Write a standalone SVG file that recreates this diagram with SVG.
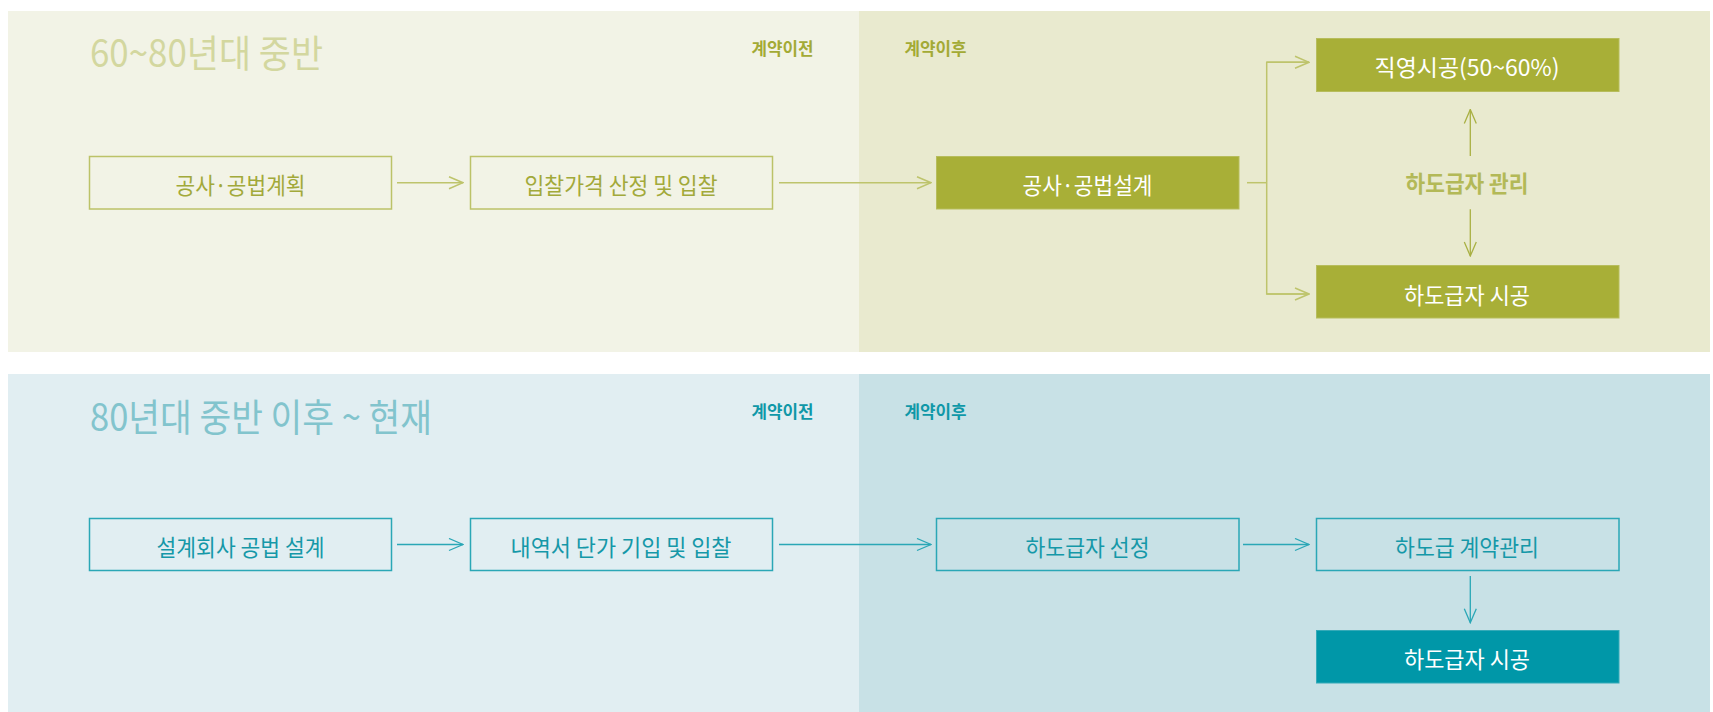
<svg xmlns="http://www.w3.org/2000/svg" width="1713" height="712" viewBox="0 0 1713 712">
  <defs>
    <style>
      text { font-family: "Noto Sans CJK KR", "Noto Sans", sans-serif; text-anchor: middle; }
      .title1 { font-size: 38px; fill: #d3d79f; text-anchor: start; }
      .title2 { font-size: 38px; fill: #82c4cd; text-anchor: start; }
      .lab1 { font-size: 17px; font-weight: bold; fill: #a3aa35; }
      .lab2 { font-size: 17px; font-weight: bold; fill: #0f98a8; }
      .ob1 { fill: none; stroke: #bcc268; stroke-width: 1.5; }
      .fb1 { fill: #a8af37; stroke: #b7bd5c; stroke-width: 1; }
      .ob2 { fill: none; stroke: #2aa7b6; stroke-width: 1.5; }
      .fb2 { fill: #0097a8; stroke: #35aab8; stroke-width: 1; }
      .t1 { font-size: 23px; fill: #a2a93a; }
      .tw { font-size: 23px; fill: #ffffff; }
      .t2 { font-size: 23px; fill: #1598a8; }
      .mg { font-size: 23px; font-weight: bold; fill: #b3b957; }
      .c1 { fill: none; stroke: #bec46c; stroke-width: 1.5; }
      .c1d { fill: none; stroke: #a9b043; stroke-width: 1.3; }
      .c2 { fill: none; stroke: #2aa7b6; stroke-width: 1.3; }
    </style>
    <marker id="a1" viewBox="0 0 16 14" refX="15" refY="7" markerWidth="16" markerHeight="14" markerUnits="userSpaceOnUse" orient="auto">
      <path d="M1,1 L15,7 L1,13" fill="none" stroke="#bec46c" stroke-width="1.5"/>
    </marker>
    <marker id="a1d" viewBox="0 0 16 14" refX="15" refY="7" markerWidth="16" markerHeight="14" markerUnits="userSpaceOnUse" orient="auto">
      <path d="M1,1 L15,7 L1,13" fill="none" stroke="#a9b043" stroke-width="1.3"/>
    </marker>
    <marker id="a2" viewBox="0 0 16 14" refX="15" refY="7" markerWidth="16" markerHeight="14" markerUnits="userSpaceOnUse" orient="auto">
      <path d="M1,1 L15,7 L1,13" fill="none" stroke="#2aa7b6" stroke-width="1.3"/>
    </marker>
  </defs>

  <rect width="1713" height="712" fill="#ffffff"/>

  <g id="panel-top">
    <rect x="8" y="11" width="851" height="341" fill="#f2f3e6"/>
    <rect x="859" y="11" width="851" height="341" fill="#e9eacf"/>
    <text class="title1" x="90" y="67" textLength="233" lengthAdjust="spacingAndGlyphs">60~80년대 중반</text>
    <text class="lab1" x="782.5" y="55" textLength="62" lengthAdjust="spacingAndGlyphs">계약이전</text>
    <text class="lab1" x="935.5" y="55" textLength="62" lengthAdjust="spacingAndGlyphs">계약이후</text>
  </g>

  <g id="panel-bottom">
    <rect x="8" y="374" width="851" height="338" fill="#e1eef2"/>
    <rect x="859" y="374" width="851" height="338" fill="#c8e1e6"/>
    <text class="title2" x="90" y="431" textLength="342" lengthAdjust="spacingAndGlyphs">80년대 중반 이후 ~ 현재</text>
    <text class="lab2" x="782.5" y="418" textLength="62" lengthAdjust="spacingAndGlyphs">계약이전</text>
    <text class="lab2" x="935.5" y="418" textLength="62" lengthAdjust="spacingAndGlyphs">계약이후</text>
  </g>

  <g id="connectors">
    <line class="c1" x1="397" y1="182.7" x2="463" y2="182.7" marker-end="url(#a1)"/>
    <line class="c1" x1="779" y1="182.7" x2="931" y2="182.7" marker-end="url(#a1)"/>
    <polyline class="c1" points="1247,182.7 1266.7,182.7"/>
    <polyline class="c1" points="1309,62.3 1266.7,62.3 1266.7,294 1309,294"/>
    <line class="c1" x1="1266.7" y1="62.3" x2="1309" y2="62.3" marker-end="url(#a1)"/>
    <line class="c1" x1="1266.7" y1="294" x2="1309" y2="294" marker-end="url(#a1)"/>
    <line class="c1d" x1="1470.3" y1="156" x2="1470.3" y2="109.5" marker-end="url(#a1d)"/>
    <line class="c1d" x1="1470.3" y1="209.3" x2="1470.3" y2="256" marker-end="url(#a1d)"/>

    <line class="c2" x1="397" y1="544.5" x2="463" y2="544.5" marker-end="url(#a2)"/>
    <line class="c2" x1="779" y1="544.5" x2="931" y2="544.5" marker-end="url(#a2)"/>
    <line class="c2" x1="1243" y1="544.5" x2="1309" y2="544.5" marker-end="url(#a2)"/>
    <line class="c2" x1="1470.3" y1="576" x2="1470.3" y2="622.7" marker-end="url(#a2)"/>
  </g>

  <g id="n-plan1">
    <rect class="ob1" x="89.5" y="156.5" width="302" height="52.5"/>
    <text class="t1" x="240.5" y="194" textLength="130" lengthAdjust="spacingAndGlyphs">공사·공법계획</text>
  </g>
  <g id="n-bid1">
    <rect class="ob1" x="470.5" y="156.5" width="302" height="52.5"/>
    <text class="t1" x="621" y="194" textLength="193" lengthAdjust="spacingAndGlyphs">입찰가격 산정 및 입찰</text>
  </g>
  <g id="n-design1">
    <rect class="fb1" x="936.5" y="156.5" width="302.5" height="52.5"/>
    <text class="tw" x="1087.5" y="194" textLength="130" lengthAdjust="spacingAndGlyphs">공사·공법설계</text>
  </g>
  <g id="n-direct1">
    <rect class="fb1" x="1316.5" y="38.5" width="302.5" height="53"/>
    <text class="tw" x="1467" y="76" textLength="185" lengthAdjust="spacingAndGlyphs">직영시공(50~60%)</text>
  </g>
  <g id="n-manage1">
    <text class="mg" x="1467" y="192" textLength="123" lengthAdjust="spacingAndGlyphs">하도급자 관리</text>
  </g>
  <g id="n-sub1">
    <rect class="fb1" x="1316.5" y="265.5" width="302.5" height="52.5"/>
    <text class="tw" x="1467" y="304" textLength="126" lengthAdjust="spacingAndGlyphs">하도급자 시공</text>
  </g>

  <g id="n-plan2">
    <rect class="ob2" x="89.5" y="518.5" width="302" height="52"/>
    <text class="t2" x="240.5" y="556" textLength="168" lengthAdjust="spacingAndGlyphs">설계회사 공법 설계</text>
  </g>
  <g id="n-bid2">
    <rect class="ob2" x="470.5" y="518.5" width="302" height="52"/>
    <text class="t2" x="621" y="556" textLength="221" lengthAdjust="spacingAndGlyphs">내역서 단가 기입 및 입찰</text>
  </g>
  <g id="n-select2">
    <rect class="ob2" x="936.5" y="518.5" width="302.5" height="52"/>
    <text class="t2" x="1087.5" y="556" textLength="124" lengthAdjust="spacingAndGlyphs">하도급자 선정</text>
  </g>
  <g id="n-contract2">
    <rect class="ob2" x="1316.5" y="518.5" width="302.5" height="52"/>
    <text class="t2" x="1467" y="556" textLength="144" lengthAdjust="spacingAndGlyphs">하도급 계약관리</text>
  </g>
  <g id="n-sub2">
    <rect class="fb2" x="1316.5" y="630.5" width="302.5" height="52.5"/>
    <text class="tw" x="1467" y="668" textLength="126" lengthAdjust="spacingAndGlyphs">하도급자 시공</text>
  </g>
</svg>
